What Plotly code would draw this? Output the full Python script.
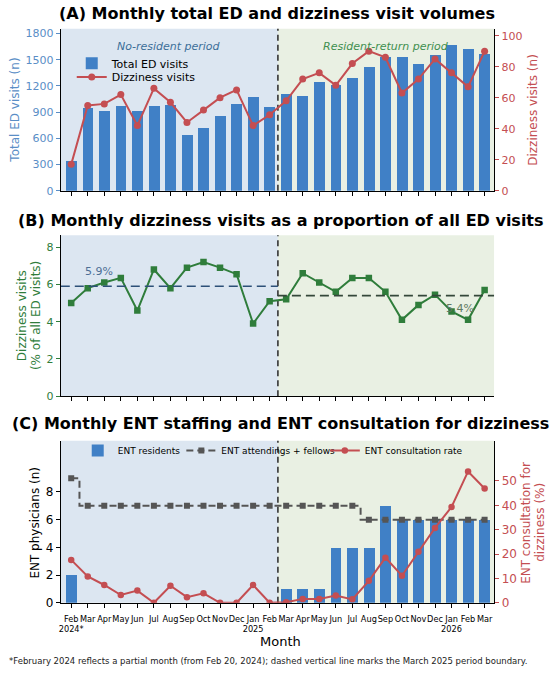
import plotly.graph_objects as go

# ---------------- data ----------------
months = ["Feb<br>2024*", "Mar", "Apr", "May", "Jun", "Jul", "Aug", "Sep", "Oct", "Nov", "Dec", "Jan<br>2025",
          "Feb", "Mar", "Apr", "May", "Jun", "Jul", "Aug", "Sep", "Oct", "Nov", "Dec", "Jan<br>2026", "Feb", "Mar"]
ed_visits = [340, 950, 920, 975, 915, 970, 985, 640, 720, 865, 995, 1080, 965,
             1110, 1090, 1250, 1220, 1290, 1420, 1540, 1540, 1460, 1560, 1670, 1630, 1570]
dizzy_visits = [17, 55, 56, 62, 42, 66, 57, 44, 52, 60, 65, 42, 49,
                58, 72, 76, 68, 82, 90, 86, 63, 72, 85, 76, 67, 90]
dizzy_pct = [5.0, 5.8, 6.1, 6.35, 4.6, 6.8, 5.8, 6.9, 7.2, 6.9, 6.55, 3.9, 5.1,
             5.2, 6.6, 6.1, 5.6, 6.35, 6.35, 5.6, 4.1, 4.9, 5.45, 4.55, 4.1, 5.7]
pre_mean_pct = 5.9
post_mean_pct = 5.4
ent_residents = [2, 0, 0, 0, 0, 0, 0, 0, 0, 0, 0, 0, 0,
                 1, 1, 1, 4, 4, 4, 7, 6, 6, 6, 6, 6, 6]
ent_attendings = [9, 7, 7, 7, 7, 7, 7, 7, 7, 7, 7, 7, 7,
                  7, 7, 7, 7, 7, 6, 6, 6, 6, 6, 6, 6, 6]
ent_consult_rate = [17.6, 10.8, 7.3, 3.2, 5.0, 0, 7.0, 2.3, 3.9, 0, 0, 7.3, 0,
                    0.2, 1.6, 1.6, 3.0, 1.4, 9.0, 18.5, 11.1, 20.9, 30.7, 39.3, 53.9, 46.9]
boundary_index = 13  # March 2025 (first resident-return month)

x = list(range(len(months)))
boundary = boundary_index - 0.5
xr = [-0.63, len(months) - 1 + 0.58]

BLUE = "#4080c6"
BLUE_TXT = "#5a8ec6"
RED = "#c44e52"
GREEN = "#2f7d3b"
GRAY = "#555555"
BG_L = "#dce6f1"
BG_R = "#e9f0e3"
FONT = "DejaVu Sans"

W, H = 550, 675
def px(v):
    return v / W
def py(v):
    return 1 - v / H

xdom = [px(59), px(494)]
domA = [py(192), py(28)]
domB = [py(400), py(237)]
domC = [py(609), py(445)]

fig = go.Figure()

# ---------- Panel A ----------
fig.add_trace(go.Bar(x=x, y=ed_visits, name="Total ED visits", marker=dict(color=BLUE, line=dict(width=0)),
                     width=0.66, xaxis="x", yaxis="y", legend="legend"))
fig.add_trace(go.Scatter(x=x, y=dizzy_visits, name="Dizziness visits", mode="lines+markers",
                         line=dict(color=RED, width=2), marker=dict(size=7, color=RED),
                         xaxis="x", yaxis="y2", legend="legend2"))

# ---------- Panel B ----------
fig.add_trace(go.Scatter(x=x, y=dizzy_pct, mode="lines+markers", showlegend=False,
                         line=dict(color=GREEN, width=2), marker=dict(size=6.5, color=GREEN, symbol="square"),
                         xaxis="x2", yaxis="y3"))
fig.add_trace(go.Scatter(x=[xr[0], boundary], y=[pre_mean_pct, pre_mean_pct], mode="lines", showlegend=False,
                         line=dict(color="#2d5078", width=1.6, dash="9px,5px"), xaxis="x2", yaxis="y3",
                         hoverinfo="skip"))
fig.add_trace(go.Scatter(x=[boundary, xr[1]], y=[post_mean_pct, post_mean_pct], mode="lines", showlegend=False,
                         line=dict(color="#34473a", width=1.6, dash="9px,5px"), xaxis="x2", yaxis="y3",
                         hoverinfo="skip"))

# ---------- Panel C ----------
fig.add_trace(go.Bar(x=x, y=ent_residents, name="ENT residents", marker=dict(color=BLUE, line=dict(width=0)),
                     width=0.66, xaxis="x3", yaxis="y4", legend="legend3"))
fig.add_trace(go.Scatter(x=x, y=ent_attendings, name="ENT attendings + fellows", mode="lines+markers",
                         line=dict(color=GRAY, width=2, dash="7px,4px", shape="hvh"),
                         marker=dict(size=6, color=GRAY, symbol="square"),
                         xaxis="x3", yaxis="y4", legend="legend4"))
fig.add_trace(go.Scatter(x=x, y=ent_consult_rate, name="ENT consultation rate", mode="lines+markers",
                         line=dict(color=RED, width=2), marker=dict(size=6.5, color=RED),
                         xaxis="x3", yaxis="y5", legend="legend5"))

# ---------- shapes: period shading and boundary ----------
shapes = []
for xa, ya in [("x", "y"), ("x2", "y3"), ("x3", "y4")]:
    shapes.append(dict(type="rect", xref=xa, yref=ya + " domain", x0=xr[0], x1=boundary, y0=0, y1=1,
                       fillcolor=BG_L, line=dict(width=0), layer="below"))
    shapes.append(dict(type="rect", xref=xa, yref=ya + " domain", x0=boundary, x1=xr[1], y0=0, y1=1,
                       fillcolor=BG_R, line=dict(width=0), layer="below"))
    shapes.append(dict(type="line", xref=xa, yref=ya + " domain", x0=boundary, x1=boundary, y0=0, y1=1,
                       line=dict(color="#333333", width=1.6, dash="6px,4px"), layer="below"))

common_x = dict(range=xr, domain=xdom, showline=True, linecolor="black", linewidth=1.2, ticks="outside",
                ticklen=4, tickcolor="black", tickvals=x, showgrid=False, zeroline=False, fixedrange=True)

def leg(xpx, ypx, size):
    return dict(x=px(xpx), y=py(ypx), xanchor="left", yanchor="middle", bgcolor="rgba(0,0,0,0)",
                font=dict(family=FONT, size=size), itemwidth=30, borderwidth=0)

fig.update_layout(
    width=W, height=H, margin=dict(l=0, r=0, t=0, b=0), paper_bgcolor="white", plot_bgcolor="rgba(0,0,0,0)",
    font=dict(family=FONT, color="black"), bargap=0, shapes=shapes,
    xaxis=dict(common_x, anchor="y", showticklabels=False),
    yaxis=dict(domain=domA, range=[0, 1856], dtick=300, showline=True, linecolor="black", linewidth=1.2,
               ticks="outside", ticklen=4, tickcolor=BLUE_TXT, tickfont=dict(family=FONT, size=11, color=BLUE_TXT),
               showgrid=False, zeroline=False),
    yaxis2=dict(overlaying="y", side="right", anchor="x", range=[0, 104.5], dtick=20, showline=True,
                linecolor="black", linewidth=1.2, ticks="outside", ticklen=4, tickcolor=RED,
                tickfont=dict(family=FONT, size=11, color=RED), showgrid=False, zeroline=False),
    xaxis2=dict(common_x, anchor="y3", showticklabels=False),
    yaxis3=dict(domain=domB, anchor="x2", range=[0, 8.64], tickvals=[0, 2, 4, 6, 8], showline=True,
                linecolor="black", linewidth=1.2, ticks="outside", ticklen=4, tickcolor=GREEN,
                tickfont=dict(family=FONT, size=11, color=GREEN), showgrid=False, zeroline=False),
    xaxis3=dict(common_x, anchor="y4", ticktext=months, tickangle=0, tickfont=dict(family=FONT, size=8.2),
                ticklabelstandoff=4),
    yaxis4=dict(domain=domC, anchor="x3", range=[0, 11.7], tickvals=[0, 2, 4, 6, 8], showline=True,
                linecolor="black", linewidth=1.2, ticks="outside", ticklen=4, tickcolor="black",
                tickfont=dict(family=FONT, size=12), showgrid=False, zeroline=False),
    yaxis5=dict(overlaying="y4", side="right", anchor="x3", range=[0, 66.5], tickvals=[0, 10, 20, 30, 40, 50],
                showline=True, linecolor="black", linewidth=1.2, ticks="outside", ticklen=4, tickcolor=RED,
                tickfont=dict(family=FONT, size=12, color=RED), showgrid=False, zeroline=False),
    legend=leg(70, 63, 11),
    legend2=leg(70, 77, 11),
    legend3=leg(76, 455, 9),
    legend4=leg(180, 455, 9),
    legend5=leg(324, 455, 9),
)

def txt(text, xpx, ypx, size, color="black", angle=0, bold=False, italic=False, xanchor="center"):
    if bold:
        text = f"<b>{text}</b>"
    if italic:
        text = f"<i>{text}</i>"
    return dict(text=text, x=px(xpx), y=py(ypx), xref="paper", yref="paper", showarrow=False,
                textangle=angle, font=dict(family=FONT, size=size, color=color),
                xanchor=xanchor, yanchor="middle")

annotations = [
    txt("(A) Monthly total ED and dizziness visit volumes", 276.5, 13, 16, bold=True),
    txt("(B) Monthly dizziness visits as a proportion of all ED visits", 280, 222, 16, bold=True),
    txt("(C) Monthly ENT staffing and ENT consultation for dizziness", 280, 428, 16, bold=True),
    # axis titles
    txt("Total ED visits (n)", 13, 110, 12, BLUE_TXT, angle=-90),
    txt("Dizziness visits (n)", 533, 110, 12, RED, angle=-90),
    txt("Dizziness visits", 20, 318, 12, GREEN, angle=-90),
    txt("(% of all ED visits)", 34, 318, 12, GREEN, angle=-90),
    txt("ENT physicians (n)", 33, 528, 12, angle=-90),
    txt("ENT consultation for", 526, 528, 12, RED, angle=-90),
    txt("dizziness (%)", 540, 528, 12, RED, angle=-90),
    txt("Month", 280, 648, 13),
    # period labels
    dict(text="<i>No-resident period</i>", x=(xr[0] + boundary) / 2, y=py(46), xref="x", yref="paper",
         showarrow=False, font=dict(family=FONT, size=11, color="#3d6f99"), xanchor="center", yanchor="middle"),
    dict(text="<i>Resident-return period</i>", x=(boundary + xr[1]) / 2, y=py(46), xref="x", yref="paper",
         showarrow=False, font=dict(family=FONT, size=11, color="#3f8f4f"), xanchor="center", yanchor="middle"),
    # mean labels
    dict(text=f"{pre_mean_pct:.1f}%", x=1.7, y=pre_mean_pct, xref="x2", yref="y3", yshift=6, showarrow=False,
         font=dict(family=FONT, size=11, color="#4d6f95"), xanchor="center", yanchor="bottom"),
    dict(text=f"{post_mean_pct:.1f}%", x=23.5, y=post_mean_pct, xref="x2", yref="y3", yshift=-4, showarrow=False,
         font=dict(family=FONT, size=11, color="#5f7a62"), xanchor="center", yanchor="top"),
    txt("*February 2024 reflects a partial month (from Feb 20, 2024); dashed vertical line marks the March 2025 period boundary.",
        5, 668, 8.5, "#222222", xanchor="left"),
]
fig.update_layout(annotations=annotations)

fig.write_html("out.html", config={"displayModeBar": False},
               post_script="document.body.style.margin='0px';document.body.style.overflow='hidden';")
